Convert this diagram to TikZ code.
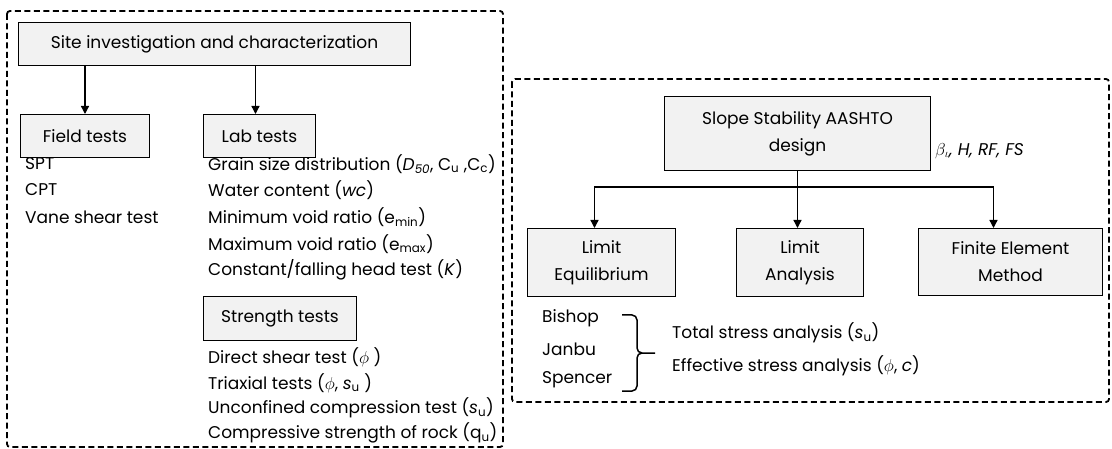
\documentclass[tikz,border=0pt]{standalone}
\usepackage{fontspec}
\setmainfont{Poppins}
\usetikzlibrary{arrows.meta,calc}
\definecolor{boxgray}{RGB}{242,242,242}
\newcommand{\sbs}[1]{\textsubscript{#1}}
\begin{document}
\begin{tikzpicture}[x=1pt,y=-1pt,
  every node/.style={font=\fontsize{17}{21}\selectfont},
  procbox/.style={draw, line width=1pt, fill=boxgray, inner sep=0pt, anchor=north west, align=center, font=\fontsize{17}{27}\selectfont},
  listtxt/.style={anchor=west, inner sep=0pt},
  groupbox/.style={draw, line width=1.8pt, dash pattern=on 6pt off 3.5pt, rounded corners=3pt},
  arr/.style={line width=1.3pt, -{Triangle[length=8pt,width=8pt]}},
  link/.style={line width=1.3pt}]
\useasboundingbox (0,0) rectangle (1112,449);

% dashed group frames
\draw[groupbox] (7,11) rectangle (503,447);
\draw[groupbox] (512,79) rectangle (1109,402);

% site investigation branch
\node[procbox, minimum width=392pt, minimum height=43pt] (site) at (18,22) {Site investigation and characterization};
\node[procbox, minimum width=129pt, minimum height=43pt] (field) at (20,114) {Field tests};
\node[procbox, minimum width=112pt, minimum height=43pt] (lab) at (203,114) {Lab tests};
\node[procbox, minimum width=153pt, minimum height=44pt] (strength) at (203,296) {Strength tests};

\draw[arr] (site.south -| field.north) -- (field.north);
\draw[arr] ($(site.south -| lab.north)+(-4,0)$) -- ($(lab.north)+(-4,0)$);

\node[listtxt] (spt) at (25,164) {SPT};
\node[listtxt] (cpt) at (25,190) {CPT};
\node[listtxt] (vane) at (25,217) {Vane shear test};

\node[listtxt] (grain) at (208,164) {Grain size distribution (\textit{D\sbs{50}}, C\sbs{u} ,C\sbs{c})};
\node[listtxt] (water) at (208,190) {Water content (\textit{wc})};
\node[listtxt] (emin) at (208,217) {Minimum void ratio (e\sbs{min})};
\node[listtxt] (emax) at (208,244) {Maximum void ratio (e\sbs{max})};
\node[listtxt] (perm) at (208,270) {Constant/falling head test (\textit{K})};

\node[listtxt] (direct) at (208,357) {Direct shear test ($\phi$ )};
\node[listtxt] (triax) at (208,383) {Triaxial tests ($\phi$, \textit{s}\sbs{u} )};
\node[listtxt] (ucs) at (208,408) {Unconfined compression test (\textit{s}\sbs{u})};
\node[listtxt] (rock) at (208,433) {Compressive strength of rock (q\sbs{u})};

% slope stability branch
\node[procbox, minimum width=266pt, minimum height=74pt] (slope) at (664,96) {Slope Stability AASHTO\\design};
\node[listtxt, font=\fontsize{17}{21}\selectfont\itshape] (params) at (935,151) {$\beta_{\iota}$, H, RF, FS};
\node[procbox, minimum width=148pt, minimum height=68pt] (le) at (527,228) {Limit\\Equilibrium};
\node[procbox, minimum width=127pt, minimum height=68pt] (la) at (736,228) {Limit\\Analysis};
\node[procbox, minimum width=184pt, minimum height=67pt] (fe) at (918,228) {Finite Element\\Method};

\coordinate (bar) at ($(slope.south)+(0,16)$);
\draw[link] (slope.south) -- (bar);
\draw[arr] (bar) -| ($(le.north)+(-7,0)$);
\draw[arr] (bar) -- (bar |- la.north);
\draw[arr] (bar) -| ($(fe.north)+(-17,0)$);

\node[listtxt] (bishop) at (542,318) {Bishop};
\node[listtxt] (janbu) at (542,349) {Janbu};
\node[listtxt] (spencer) at (542,380) {Spencer};

% brace grouping the three methods
\draw[link, line width=1.5pt] (622,315) -- (632,315) to[out=0,in=90] (637,320) -- (637,348) to[out=-90,in=180] (642,353) -- (655,353);
\draw[link, line width=1.5pt] (642,353) to[out=180,in=90] (637,358) -- (637,386) to[out=-90,in=0] (632,391) -- (622,391);

\node[listtxt] (total) at (672,333) {Total stress analysis (\textit{s}\sbs{u})};
\node[listtxt] (effective) at (672,366) {Effective stress analysis ($\phi$, \textit{c})};
\end{tikzpicture}
\end{document}
